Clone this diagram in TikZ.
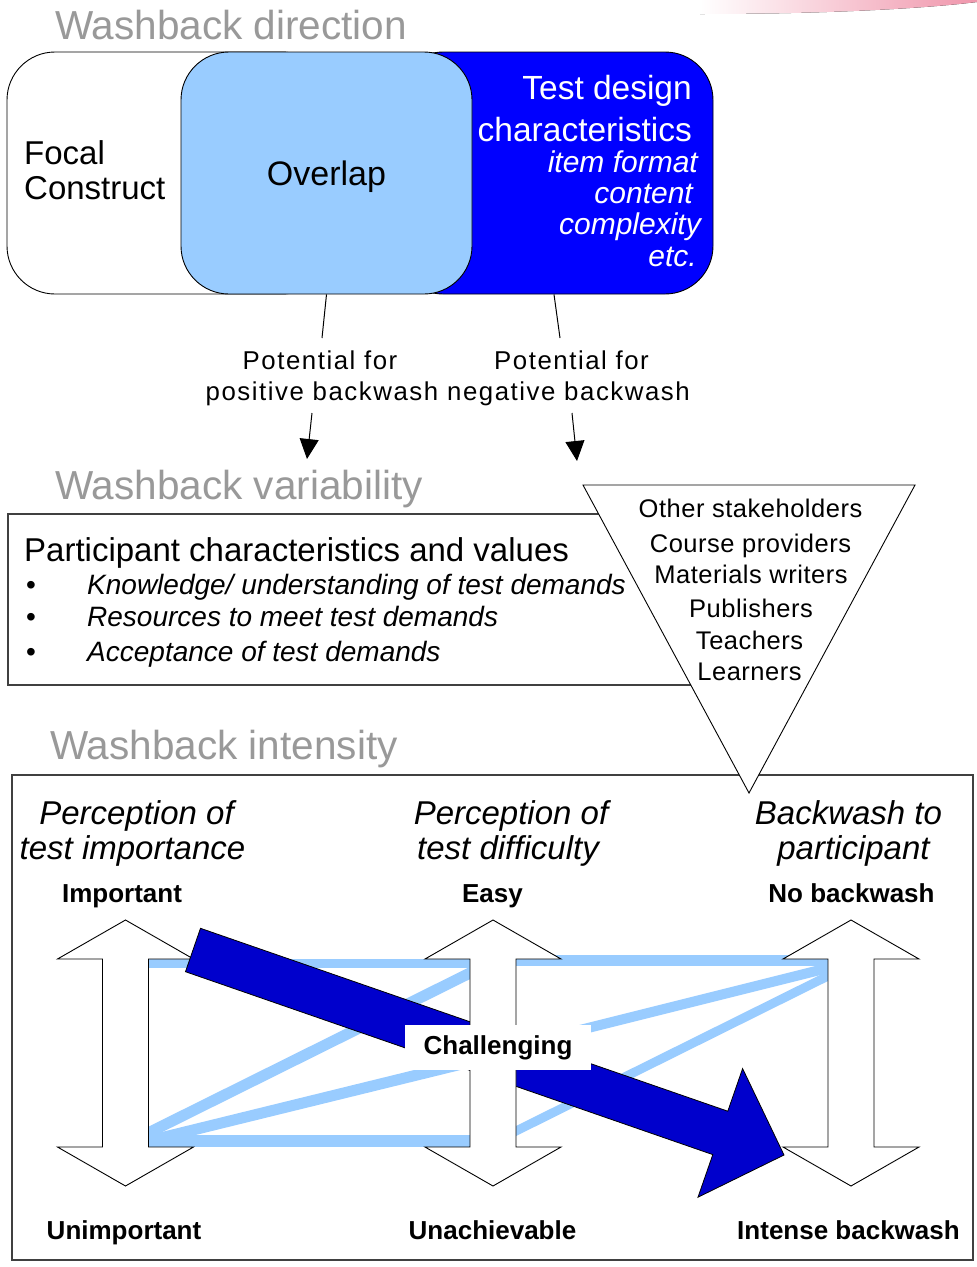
\documentclass[tikz,border=0pt]{standalone}
\usepackage{fontspec}
\setmainfont{Liberation Sans}
\newfontfamily\lsp[LetterSpace=6]{Liberation Sans}
\newfontfamily\lspt[LetterSpace=2]{Liberation Sans}
\usetikzlibrary{arrows.meta}
\definecolor{ttl}{RGB}{153,153,153}
\definecolor{lblue}{RGB}{153,204,255}
\definecolor{dblue}{RGB}{0,0,255}
\definecolor{darrow}{RGB}{0,0,204}
\definecolor{bord}{RGB}{64,64,64}
\definecolor{pinkd}{RGB}{240,150,172}
\newcommand\fsz[1]{\fontsize{#1pt}{#1pt}\selectfont}
\begin{document}
\begin{tikzpicture}[x=1pt,y=-1pt,
  txt/.style={inner sep=0pt, anchor=base},
  ttlstyle/.style={inner sep=0pt, anchor=base west, text=ttl, font=\fsz{40.5}},
  topbox/.style={draw=black, line width=0.9pt, rounded corners=48pt, inner sep=0pt},
  frame/.style={draw=bord, line width=1.3pt, inner sep=0pt},
  band/.style={draw=lblue, line width=#1, line cap=butt},
  dbl/.style={draw=black, fill=white, line width=0.9pt},
  conn/.style={draw=black, line width=1pt},
  dblarrow/.pic={\draw[dbl] (0,-133)--(68,-94)--(23,-94)--(23,94)--(68,94)--(0,133)--(-68,94)--(-23,94)--(-23,-94)--(-68,-94)--cycle;}
]
\useasboundingbox[fill=white] (0,0) rectangle (977,1267);

% pink decoration
\fill[left color=white, right color=pinkd] (700,0) -- (977,0) -- (977,2) .. controls (920,9) and (820,14) .. (700,14) -- cycle;

% titles
\node[ttlstyle] (t1) at (55,39) {Washback direction};
\node[ttlstyle] (t2) at (55,499) {Washback variability};
\node[ttlstyle] (t3) at (50,759) {Washback intensity};

% top boxes
\node[topbox, fill=white, minimum width=323pt, minimum height=242pt] (focal) at (168.5,173) {};
\node[topbox, fill=dblue, minimum width=318pt, minimum height=242pt] (dbox) at (554,173) {};
\node[topbox, fill=lblue, minimum width=291pt, minimum height=242pt] (ovl) at (326.5,173) {};

\node[txt, anchor=base west, font=\fsz{33}] (fc1) at (24,164) {Focal};
\node[txt, anchor=base west, font=\fsz{33}] (fc2) at (24,199) {Construct};
\node[txt, font=\fsz{34}] (ovt) at (326.5,185) {Overlap};
\node[txt, anchor=base east, text=white, font=\fsz{33.5}] (td1) at (692,99) {Test design};
\node[txt, anchor=base east, text=white, font=\fsz{33.5}] (td2) at (692,141) {characteristics};
\node[txt, anchor=base east, text=white, font=\itshape\fsz{30}] (td3) at (698,172) {item format};
\node[txt, anchor=base east, text=white, font=\itshape\fsz{30}] (td4) at (693,203) {content};
\node[txt, anchor=base east, text=white, font=\itshape\fsz{30}] (td5) at (701,234) {complexity};
\node[txt, anchor=base east, text=white, font=\itshape\fsz{30}] (td6) at (697,266) {etc.};

% potential labels and connectors
\node[txt, font=\lsp\fsz{25.8}] (pp1) at (320,369) {Potential for};
\node[txt, font=\lsp\fsz{25.8}] (pp2) at (322,400) {positive backwash};
\node[txt, font=\lsp\fsz{25.8}] (pn1) at (571.5,369) {Potential for};
\node[txt, font=\lsp\fsz{25.8}] (pn2) at (568.5,400) {negative backwash};
\coordinate (p1b) at (322,338);
\coordinate (p1c) at (312,413);
\coordinate (p1d) at (307,459);
\coordinate (p2b) at (560,338);
\coordinate (p2c) at (572,413);
\coordinate (p2d) at (577,461);
\draw[conn] (ovl.south) -- (p1b);
\draw[conn, -{Triangle[length=20pt,width=19pt]}] (p1c) -- (p1d);
\draw[conn] (dbox.south) -- (p2b);
\draw[conn, -{Triangle[length=20pt,width=19pt]}] (p2c) -- (p2d);

% participant box
\node[frame, minimum width=692pt, minimum height=171pt] (pbox) at (354,599.5) {};
\node[txt, anchor=base west, font=\fsz{33}] (pc) at (24,561) {Participant characteristics and values};
\node[txt, anchor=base west, font=\fsz{28}] (b1) at (26,594) {•};
\node[txt, anchor=base west, font=\fsz{28}] (b2) at (26,626) {•};
\node[txt, anchor=base west, font=\fsz{28}] (b3) at (26,661) {•};
\node[txt, anchor=base west, font=\itshape\fsz{28}] (i1) at (87,594) {Knowledge/ understanding of test demands};
\node[txt, anchor=base west, font=\itshape\fsz{28}] (i2) at (87,626) {Resources to meet test demands};
\node[txt, anchor=base west, font=\itshape\fsz{28}] (i3) at (87,661) {Acceptance of test demands};

% intensity box
\node[frame, minimum width=961pt, minimum height=485pt] (ibox) at (492.5,1017.5) {};

% triangle of stakeholders
\coordinate (tr1) at (583,485);
\coordinate (tr2) at (915,485);
\coordinate (tr3) at (749,793);
\draw[fill=white, draw=black, line width=0.9pt] (tr1) -- (tr2) -- (tr3) -- cycle;
\node[txt, font=\lspt\fsz{25.5}] (s1) at (750.5,517) {Other stakeholders};
\node[txt, font=\lspt\fsz{25.5}] (s2) at (750.5,552) {Course providers};
\node[txt, font=\lspt\fsz{25.5}] (s3) at (751,583) {Materials writers};
\node[txt, font=\lspt\fsz{25.5}] (s4) at (751,617) {Publishers};
\node[txt, font=\lspt\fsz{25.5}] (s5) at (749.5,649) {Teachers};
\node[txt, font=\lspt\fsz{25.5}] (s6) at (749.5,680) {Learners};

% column headers
\node[txt, font=\itshape\fsz{33}] (h1a) at (136.5,824) {Perception of};
\node[txt, font=\itshape\fsz{33}] (h1b) at (132.5,859) {test importance};
\node[txt, font=\itshape\fsz{33}] (h2a) at (511,824) {Perception of};
\node[txt, font=\itshape\fsz{33}] (h2b) at (508,859) {test difficulty};
\node[txt, font=\itshape\fsz{33}] (h3a) at (848.5,824) {Backwash to};
\node[txt, font=\itshape\fsz{33}] (h3b) at (853.5,859) {participant};
\node[txt, font=\bfseries\fsz{26}] (l1) at (122,902) {Important};
\node[txt, font=\bfseries\fsz{26}] (l2) at (492.5,902) {Easy};
\node[txt, font=\bfseries\fsz{26}] (l3) at (851.5,902) {No backwash};
\node[txt, font=\bfseries\fsz{26}] (l4) at (124,1239) {Unimportant};
\node[txt, font=\bfseries\fsz{26}] (l5) at (492.5,1239) {Unachievable};
\node[txt, font=\bfseries\fsz{26}] (l6) at (848.5,1239) {Intense backwash};

% light blue bands
\draw[band=9pt] (140,963) -- (478,963);
\draw[band=11pt] (140,1137) -- (478,969);
\draw[band=11pt] (140,1143) -- (478,1060);
\draw[band=12pt] (140,1141) -- (478,1141);
\draw[band=11pt] (508,960.5) -- (836,960.5);
\draw[band=10pt] (508,1048) -- (836,966);
\draw[band=9pt] (508,1135) -- (836,972);

% double arrows and main arrow
\pic at (125.5,1053) {dblarrow};
\draw[fill=darrow, draw=black, line width=0.8pt] (200.5,928.3) -- (727.8,1111.2) -- (742.6,1068.6) -- (784,1155) -- (698,1197.2) -- (712.8,1154.6) -- (185.5,971.7) -- cycle;
\pic at (493,1053) {dblarrow};
\pic at (851,1053) {dblarrow};

\node[fill=white, minimum width=186pt, minimum height=45pt, inner sep=0pt, font=\bfseries\fsz{26}] (chal) at (498,1047.5) {Challenging};
\end{tikzpicture}
\end{document}
